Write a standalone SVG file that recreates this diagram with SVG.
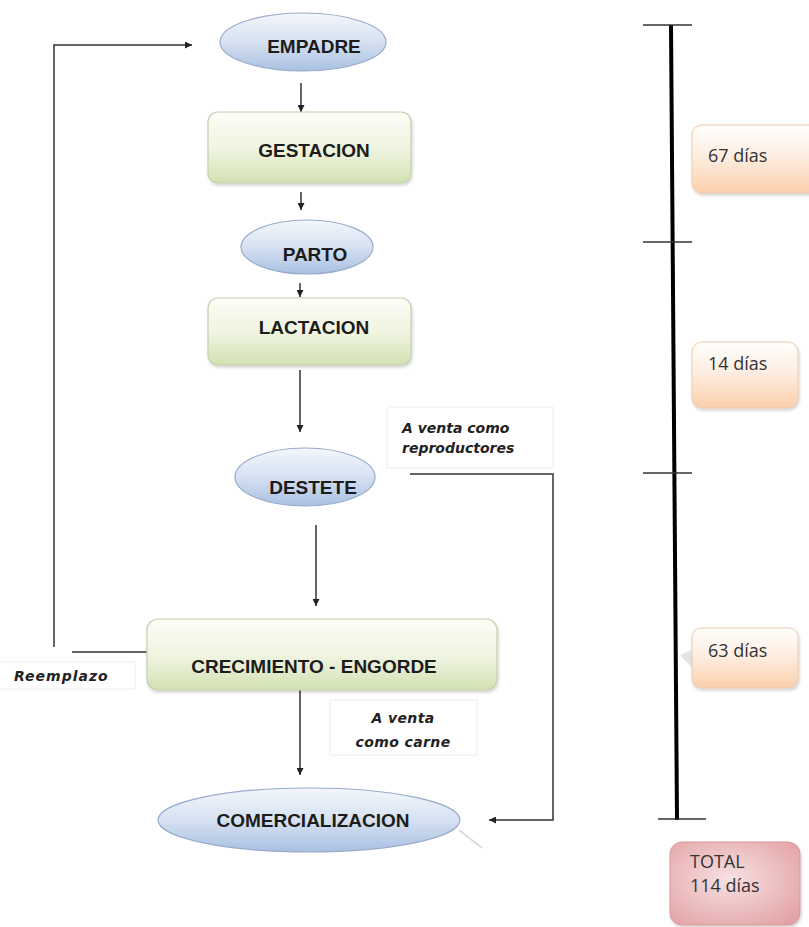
<svg xmlns="http://www.w3.org/2000/svg" width="809" height="927" viewBox="0 0 809 927">
<defs>
<linearGradient id="gBlue" x1="0" y1="0" x2="0" y2="1">
<stop offset="0" stop-color="#f4f7fc"/>
<stop offset="0.5" stop-color="#d6e1f1"/>
<stop offset="1" stop-color="#a9c0e2"/>
</linearGradient>
<linearGradient id="gGreen" x1="0" y1="0" x2="0" y2="1">
<stop offset="0" stop-color="#fdfdf8"/>
<stop offset="0.55" stop-color="#eef3de"/>
<stop offset="1" stop-color="#d2e1b2"/>
</linearGradient>
<linearGradient id="gOrange" x1="0" y1="0" x2="0" y2="1">
<stop offset="0" stop-color="#fffefc"/>
<stop offset="0.45" stop-color="#fdeee2"/>
<stop offset="1" stop-color="#fbcfab"/>
</linearGradient>
<radialGradient id="gPink" cx="0.45" cy="0.45" r="0.7">
<stop offset="0" stop-color="#f7e1e2"/>
<stop offset="1" stop-color="#e3a2a5"/>
</radialGradient>
<filter id="sh" x="-10%" y="-10%" width="130%" height="140%">
<feDropShadow dx="1" dy="2" stdDeviation="1.5" flood-color="#000" flood-opacity="0.18"/>
</filter>
<marker id="ah" viewBox="0 0 10 10" refX="10" refY="5" markerWidth="7" markerHeight="7" markerUnits="userSpaceOnUse" orient="auto">
<path d="M0,0 L10,5 L0,10 z" fill="#222"/>
</marker>
<style>
.ell{fill:url(#gBlue);stroke:#98abcb;stroke-width:1.2}
.box{fill:url(#gGreen);stroke:#c4cfae;stroke-width:1.2}
.day{fill:url(#gOrange);stroke:#ecc9ae;stroke-width:1}
.lbl{fill:#fff;stroke:#eeeeee;stroke-width:1}
.t{font-family:"Liberation Sans",Arial,sans-serif;font-weight:bold;font-size:19px;fill:#1c1c1c;text-anchor:middle}
.it{font-family:"DejaVu Sans",Verdana,sans-serif;font-weight:bold;font-style:italic;font-size:14px;fill:#222}
.d{font-family:"Open Sans","DejaVu Sans",sans-serif;font-size:18px;fill:#333}
.c{fill:none;stroke:#333;stroke-width:1.5}
.tick{stroke:#333;stroke-width:1.3}
</style>
</defs>
<rect width="809" height="927" fill="#ffffff"/>

<g id="connectors">
<path class="c" d="M301,83 V112" marker-end="url(#ah)"/>
<path class="c" d="M301,192 V210" marker-end="url(#ah)"/>
<path class="c" d="M300,283 V297" marker-end="url(#ah)"/>
<path class="c" d="M300,370 V432" marker-end="url(#ah)"/>
<path class="c" d="M316,525 V606" marker-end="url(#ah)"/>
<path class="c" d="M300,690 V775" marker-end="url(#ah)"/>
<path class="c" stroke="#555" d="M152,652 H72 M54,647 V45 H192" marker-end="url(#ah)"/>
<path class="c" stroke="#555" d="M410,474 H553 V820 H489" marker-end="url(#ah)"/>
</g>

<g id="empadre">
<ellipse class="ell" cx="303" cy="42" rx="83" ry="29"/>
<text class="t" x="314" y="53">EMPADRE</text>
</g>
<g id="gestacion">
<rect class="box" x="208" y="112" width="203" height="71" rx="10" filter="url(#sh)"/>
<text class="t" x="314" y="157">GESTACION</text>
</g>
<g id="parto">
<ellipse class="ell" cx="307" cy="247" rx="66" ry="27"/>
<text class="t" x="315" y="261">PARTO</text>
</g>
<g id="lactacion">
<rect class="box" x="208" y="298" width="203" height="67" rx="10" filter="url(#sh)"/>
<text class="t" x="314" y="334">LACTACION</text>
</g>
<g id="destete">
<ellipse class="ell" cx="305" cy="477" rx="70" ry="29"/>
<text class="t" x="313" y="494">DESTETE</text>
</g>
<g id="crecimiento">
<rect class="box" x="147" y="619" width="350" height="71" rx="11" filter="url(#sh)"/>
<text class="t" x="314" y="673">CRECIMIENTO - ENGORDE</text>
</g>
<g id="comercializacion">
<ellipse class="ell" cx="309" cy="820" rx="151" ry="32"/>
<text class="t" x="313" y="827">COMERCIALIZACION</text>
<line x1="459" y1="830" x2="482" y2="848" stroke="#ddd" stroke-width="2"/>
</g>

<g id="label-reproductores">
<rect class="lbl" x="387" y="407" width="166" height="61"/>
<text class="it" x="402" y="433" font-size="14.5">A venta como</text>
<text class="it" x="402" y="453" font-size="14.5">reproductores</text>
</g>
<g id="label-reemplazo">
<rect class="lbl" x="-1" y="662" width="136" height="27"/>
<text class="it" x="14" y="681" letter-spacing="1">Reemplazo</text>
</g>
<g id="label-carne">
<rect class="lbl" x="330" y="700" width="147" height="55"/>
<text class="it" x="403" y="723" text-anchor="middle" font-size="14.5" letter-spacing="0.4">A venta</text>
<text class="it" x="403" y="747" text-anchor="middle" font-size="14.5" letter-spacing="0.4">como carne</text>
</g>

<g id="timeline">
<line x1="671" y1="25" x2="677" y2="820" stroke="#000" stroke-width="4"/>
<line class="tick" x1="643" y1="25" x2="692" y2="25"/>
<line class="tick" x1="643" y1="242" x2="692" y2="242"/>
<line class="tick" x1="643" y1="473" x2="692" y2="473"/>
<line class="tick" x1="658" y1="819" x2="706" y2="819"/>
</g>
<g id="dias67">
<rect class="day" x="692" y="125" width="130" height="68" rx="10" filter="url(#sh)"/>
<text class="d" x="708" y="162">67 días</text>
</g>
<g id="dias14">
<rect class="day" x="692" y="342" width="106" height="66" rx="10" filter="url(#sh)"/>
<text class="d" x="708" y="370">14 días</text>
</g>
<g id="dias63">
<polygon points="692,650 680,655 692,668" fill="#e4e4e4"/>
<rect class="day" x="692" y="628" width="106" height="60" rx="9" filter="url(#sh)"/>
<text class="d" x="708" y="657">63 días</text>
</g>
<g id="total">
<rect x="670" y="842" width="130" height="83" rx="12" fill="url(#gPink)" stroke="#d79a9c" stroke-width="1" filter="url(#sh)"/>
<text class="d" x="690" y="868" fill="#444" font-size="15">TOTAL</text>
<text class="d" x="690" y="892" fill="#444" font-size="16.5">114 días</text>
</g>
</svg>
